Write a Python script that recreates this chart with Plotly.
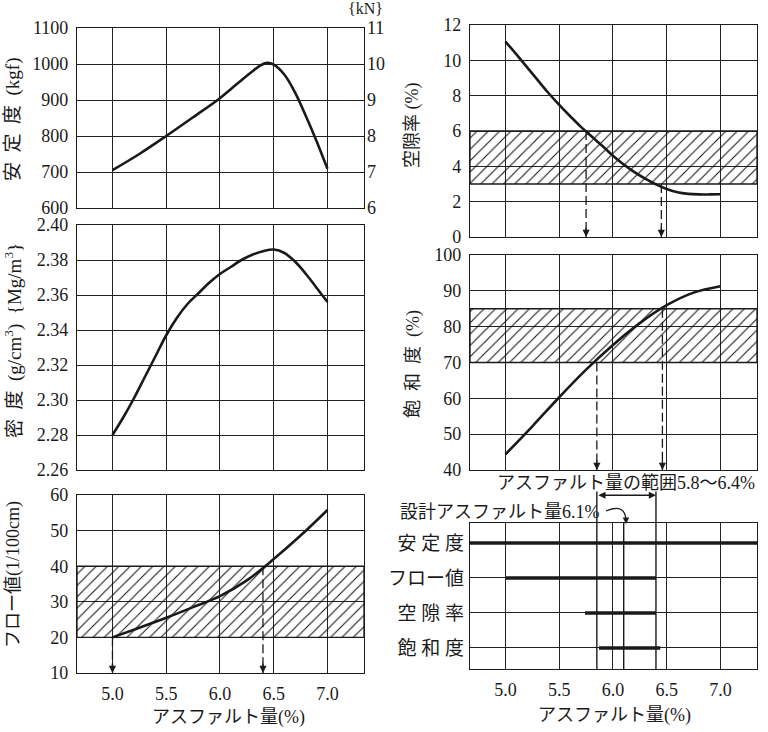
import plotly.graph_objects as go

W, H = 768, 732
def px(x): return x / W
def py(y): return 1 - y / H

# ---------------- data ----------------
ticks_x = [5.0, 5.5, 6.0, 6.5, 7.0]
x_range = [4.67, 7.34]

stab_x = [5.0, 5.25, 5.5, 5.75, 6.0, 6.1, 6.2, 6.3, 6.37, 6.44, 6.5, 6.6, 6.7, 6.8, 6.9, 7.0]
stab_kgf = [705, 750, 800, 852, 905, 930, 955, 979, 995, 1003, 998, 970, 920, 855, 785, 709]

dens_x = [5.0, 5.1, 5.2, 5.3, 5.4, 5.5, 5.6, 5.7, 5.8, 5.9, 6.0, 6.1, 6.2, 6.3, 6.4, 6.5,
          6.6, 6.7, 6.8, 6.9, 7.0]
dens = [2.280, 2.290, 2.301, 2.313, 2.325, 2.337, 2.347, 2.355, 2.361, 2.367, 2.372,
        2.376, 2.380, 2.383, 2.385, 2.386, 2.384, 2.379, 2.372, 2.364, 2.356]

flow_x = [5.0, 5.25, 5.5, 5.75, 6.0, 6.25, 6.5, 6.75, 7.0]
flow = [20.0, 22.7, 25.5, 28.5, 31.6, 36.0, 42.0, 48.6, 55.8]

void_x = [5.0, 5.1, 5.2, 5.3, 5.4, 5.5, 5.6, 5.7, 5.8, 5.9, 6.0, 6.1, 6.2, 6.3, 6.4, 6.5,
          6.6, 6.7, 6.8, 6.9, 7.0]
void = [11.06, 10.35, 9.62, 8.88, 8.15, 7.48, 6.85, 6.25, 5.7, 5.16, 4.6, 4.1, 3.67, 3.3,
        2.98, 2.72, 2.53, 2.44, 2.41, 2.41, 2.42]

sat_x = [5.0, 5.25, 5.5, 5.75, 6.0, 6.25, 6.5, 6.75, 7.0]
sat = [44.4, 52.2, 60.3, 68.0, 74.9, 81.0, 86.0, 89.5, 91.3]

flow_band = [20, 40]
void_band = [3, 6]
sat_band = [70, 85]

flow_arrow_x = [5.0, 6.4]
flow_arrow_top = [20, 40]
void_arrow_x = [5.75, 6.45]
void_arrow_top = [6, 3]
sat_arrow_x = [5.85, 6.46]
sat_arrow_top = [70, 85]

rows = ["安 定 度", "フロー値", "空 隙 率", "飽 和 度"]
row_pos = [4, 3, 2, 1]
row_lo = [x_range[0], 5.0, 5.74, 5.87]
row_hi = [x_range[1], 6.40, 6.40, 6.44]
range_lo, range_hi = 5.85, 6.40
design_ac = 6.1

# ---------------- style ----------------
FONT = "Liberation Serif, Noto Sans CJK JP, serif"
INK = "#1a1a1a"
TF = dict(family=FONT, size=18, color=INK)
EN = "\u2002"

fig = go.Figure()

def curve(x, y, ax):
    fig.add_trace(go.Scatter(x=x, y=y, mode="lines", xaxis="x" + ax, yaxis="y" + ax,
                             line=dict(color=INK, width=2.6, shape="spline", smoothing=1.0),
                             hoverinfo="skip", showlegend=False))

def band(lohi, ax):
    lo, hi = lohi
    x0, x1 = x_range
    fig.add_trace(go.Scatter(x=[x0, x1, x1, x0, x0], y=[lo, lo, hi, hi, lo], mode="lines",
                             fill="toself", fillcolor="rgba(0,0,0,0)",
                             fillpattern=dict(shape="/", fgcolor="#111", bgcolor="rgba(0,0,0,0)",
                                              size=8, solidity=0.13),
                             xaxis="x" + ax, yaxis="y" + ax,
                             line=dict(color=INK, width=1.3), hoverinfo="skip", showlegend=False))

def arrows(xs, tops, ymin, ax):
    for xv, tv in zip(xs, tops):
        fig.add_trace(go.Scatter(x=[xv, xv], y=[tv, ymin], mode="lines",
                                 xaxis="x" + ax, yaxis="y" + ax,
                                 line=dict(color=INK, width=1.3, dash="9px,4px"),
                                 hoverinfo="skip", showlegend=False))
        fig.add_annotation(x=xv, y=ymin, xref="x" + ax, yref="y" + ax, ax=0, ay=-11,
                           showarrow=True, arrowhead=2, arrowsize=1.1, arrowwidth=1.3,
                           arrowcolor=INK, text="", standoff=0)

# panel 1: stability
curve(stab_x, stab_kgf, "")
fig.add_trace(go.Scatter(x=[ticks_x[0]], y=[6], yaxis="y7", xaxis="x", mode="markers",
                         marker=dict(opacity=0), hoverinfo="skip", showlegend=False))
# panel 2: density
curve(dens_x, dens, "2")
# panel 3: flow
band(flow_band, "3")
curve(flow_x, flow, "3")
arrows(flow_arrow_x, flow_arrow_top, 10, "3")
# panel 4: voids
band(void_band, "4")
curve(void_x, void, "4")
arrows(void_arrow_x, void_arrow_top, 0, "4")
# panel 5: saturation
band(sat_band, "5")
curve(sat_x, sat, "5")
arrows(sat_arrow_x, sat_arrow_top, 40, "5")
# panel 6: criteria bars
for lo, hi, yp in zip(row_lo, row_hi, row_pos):
    fig.add_trace(go.Scatter(x=[lo, hi], y=[yp, yp], mode="lines", xaxis="x6", yaxis="y6",
                             line=dict(color=INK, width=3.6), hoverinfo="skip", showlegend=False))

# vertical lines for range and design value
for xv, top in [(range_lo, 1.215), (range_hi, 1.215), (design_ac, 1.0)]:
    fig.add_shape(type="line", xref="x6", yref="y6 domain", x0=xv, x1=xv, y0=0, y1=top,
                  line=dict(color=INK, width=1.4))
fig.add_annotation(x=range_hi, y=1.19, xref="x6", yref="y6 domain",
                   ax=range_lo, ay=1.19, axref="x6", ayref="y6 domain",
                   showarrow=True, arrowhead=2, arrowside="end+start", arrowsize=1.1,
                   arrowwidth=1.3, arrowcolor=INK, text="", standoff=0, startstandoff=0)
# hook arrow from design label
fig.add_shape(type="path", xref="paper", yref="paper",
              path=f"M {px(606)} {py(511)} Q {px(625)} {py(503)} {px(626)} {py(520)}",
              line=dict(color=INK, width=1.3))
fig.add_annotation(x=px(626), y=py(524), xref="paper", yref="paper", ax=0, ay=-6,
                   showarrow=True, arrowhead=2, arrowsize=1, arrowwidth=1.3,
                   arrowcolor=INK, text="", standoff=0)

# ---------------- axes ----------------
def xax(domain, anchor, labels):
    return dict(domain=domain, anchor=anchor, range=x_range, tickvals=ticks_x,
                ticktext=[f"{v:.1f}" for v in ticks_x], showticklabels=labels,
                showline=True, mirror=True, linecolor=INK, linewidth=1.3,
                showgrid=True, gridcolor="#222", gridwidth=1.1, zeroline=False,
                ticks="", tickfont=TF, fixedrange=True, ticklabelstandoff=4,
                automargin=False)

def yax(domain, anchor, rng, dtick, fmt=None):
    d = dict(domain=domain, anchor=anchor, range=rng, dtick=dtick, tick0=rng[0],
             showline=True, mirror=True, linecolor=INK, linewidth=1.3,
             showgrid=True, gridcolor="#222", gridwidth=1.1, zeroline=False,
             ticks="", tickfont=TF, fixedrange=True, ticklabelstandoff=4,
             automargin=False)
    if fmt:
        d["tickformat"] = fmt
    return d

XL = [px(77), px(364)]
XR = [px(470), px(757)]

fig.update_layout(
    template="none",
    width=W, height=H, margin=dict(l=0, r=0, t=0, b=0, pad=0, autoexpand=False),
    paper_bgcolor="white", plot_bgcolor="white", font=TF, showlegend=False,
    xaxis=xax(XL, "y", False),
    yaxis=yax([py(208), py(28)], "x", [600, 1100], 100),
    yaxis7=dict(overlaying="y", anchor="x", side="right", range=[6, 11], dtick=1,
                showgrid=False, zeroline=False, showline=False, ticks="", tickfont=TF,
                fixedrange=True, ticklabelstandoff=2, automargin=False),
    xaxis2=xax(XL, "y2", False),
    yaxis2=yax([py(470), py(225)], "x2", [2.26, 2.40], 0.02, ".2f"),
    xaxis3=xax(XL, "y3", True),
    yaxis3=yax([py(673), py(495)], "x3", [10, 60], 10),
    xaxis4=xax(XR, "y4", False),
    yaxis4=yax([py(237), py(25)], "x4", [0, 12], 2),
    xaxis5=xax(XR, "y5", False),
    yaxis5=yax([py(470), py(255)], "x5", [40, 100], 10),
    xaxis6=xax(XR, "y6", True),
    yaxis6=dict(domain=[py(669), py(523)], anchor="x6", range=[0.4, 4.57],
                tickvals=row_pos, ticktext=rows, showline=True, mirror=True,
                linecolor=INK, linewidth=1.3, showgrid=True, gridcolor="#222",
                gridwidth=1.1, zeroline=False, ticks="",
                tickfont=dict(family=FONT, size=19, color=INK),
                fixedrange=True, ticklabelstandoff=1, automargin=False),
)

def label(text, x, y, angle=0, size=18, xanchor="center"):
    fig.add_annotation(text=text, x=px(x), y=py(y), xref="paper", yref="paper",
                       showarrow=False, textangle=angle, xanchor=xanchor, yanchor="middle",
                       font=dict(family=FONT, size=size, color=INK))

label(f"安{EN}定{EN}度{EN}(kgf)", 13, 120, -90, 19)
label("{kN}", 365, 9, 0, 16)
label(f"密{EN}度{EN}(g/cm<sup>3</sup>){EN}{{Mg/m<sup>3</sup>}}", 13, 341, -90, 19)
label("フロー値(1/100cm)", 13, 575, -90, 18)
label("空隙率 (%)", 413, 126, -90, 18)
label(f"飽{EN}和{EN}度{EN}(%)", 413, 364, -90, 18)
label("アスファルト量の範囲5.8～6.4%", 626, 483)
label("設計アスファルト量6.1%", 500, 512)
label("アスファルト量(%)", 228, 717)
label("アスファルト量(%)", 614, 715)

fig.write_html("out.html")
